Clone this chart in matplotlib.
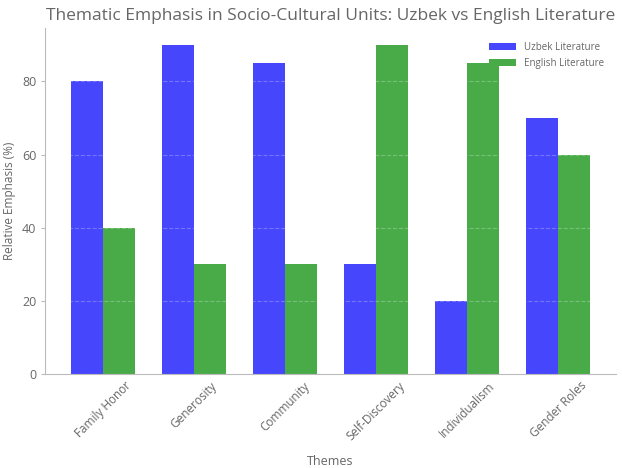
import matplotlib
matplotlib.use("Agg")
import matplotlib.pyplot as plt
import numpy as np

themes = ["Family Honor", "Generosity", "Community", "Self-Discovery", "Individualism", "Gender Roles"]
uzbek = [80, 90, 85, 30, 20, 70]
english = [40, 30, 30, 90, 85, 60]

plt.rcParams['font.family'] = ['Open Sans', 'DejaVu Sans']
txt = '#666666'

fig, ax = plt.subplots(figsize=(6.22, 4.68), dpi=100)
fig.subplots_adjust(left=0.073, right=0.99, top=0.94, bottom=0.2)
x = np.arange(len(themes))
w = 0.35
ax.bar(x - w/2, uzbek, w, color='#4646fc', label='Uzbek Literature')
ax.bar(x + w/2, english, w, color='#48ab48', label='English Literature')
ax.set_title('Thematic Emphasis in Socio-Cultural Units: Uzbek vs English Literature', color=txt, fontsize=12.5)
ax.set_xlabel('Themes', color=txt, fontsize=9, labelpad=9)
ax.set_ylabel('Relative Emphasis (%)', color=txt, fontsize=8.5)
ax.set_xticks(x)
ax.set_xticklabels(themes, rotation=45, color=txt, fontsize=8.5)
ax.tick_params(axis='y', colors='#bbbbbb', labelcolor=txt, labelsize=9, length=3)
ax.tick_params(axis='x', colors=txt, length=0)
ax.yaxis.grid(True, color='white', alpha=0.25, linewidth=0.8, linestyle='--')
for s in ['top', 'right']:
    ax.spines[s].set_visible(False)
for s in ['left', 'bottom']:
    ax.spines[s].set_color('#bbbbbb')
leg = ax.legend(frameon=False, fontsize=7, labelcolor=txt, loc='upper right',
                bbox_to_anchor=(0.995, 0.985), handlelength=2.8)
fig.savefig('out.png', dpi=100)
